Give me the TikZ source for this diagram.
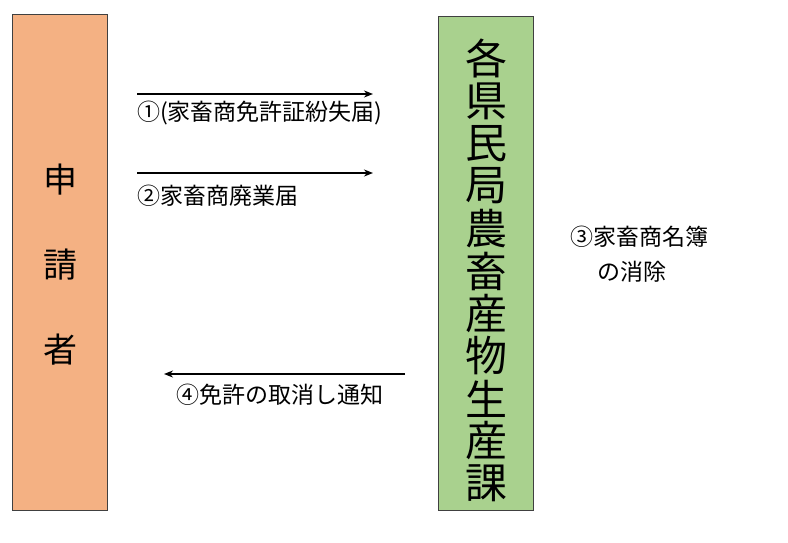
\documentclass[tikz,border=0pt]{standalone}
\usepackage{fontspec}
\setmainfont{Noto Sans CJK JP}
\usetikzlibrary{arrows.meta}
\definecolor{orangefill}{HTML}{F4B183}
\definecolor{greenfill}{HTML}{A9D18E}
\tikzset{x=1pt,y=-1pt,
 box/.style={draw=black!75,line width=1pt,minimum width=95pt,anchor=north west},
 arr/.style={-{Stealth[length=9pt,width=7pt]},line width=1.6pt},
 lbl/.style={font=\fontsize{23}{25}\selectfont,anchor=west,inner sep=0}}
\begin{document}
\begin{tikzpicture}
\useasboundingbox (0,0) rectangle (788,543);
\node[box,fill=orangefill,minimum height=496pt] (app) at (12,14) {};
\node[box,fill=greenfill,minimum height=494pt] (office) at (438,16) {};
\foreach \c [count=\i] in {申,請,者}
  \node[font=\fontsize{34}{36}\selectfont] at (60,95+85*\i) {\c};
\foreach \c [count=\i] in {各,県,民,局,農,畜,産,物,生,産,課}
  \node[font=\fontsize{42}{44}\selectfont] at (486,16+42.5*\i) {\c};
\coordinate (a1s) at (137,94); \coordinate (a1e) at (373,94);
\coordinate (a2s) at (137,173); \coordinate (a2e) at (373,173);
\coordinate (a4s) at (405,374); \coordinate (a4e) at (164,374);
\draw[arr] (a1s) -- (a1e);
\draw[arr] (a2s) -- (a2e);
\draw[arr] (a4s) -- (a4e);
\node[lbl] (l1) at (137,113) {①(家畜商免許証紛失届)};
\node[lbl] (l2) at (137,196) {②家畜商廃業届};
\node[lbl] (l4) at (176,395) {④免許の取消し通知};
\node[lbl] (l3) at (570,237) {③家畜商名簿};
\node[lbl] (l3b) at (597,272) {の消除};
\end{tikzpicture}
\end{document}
